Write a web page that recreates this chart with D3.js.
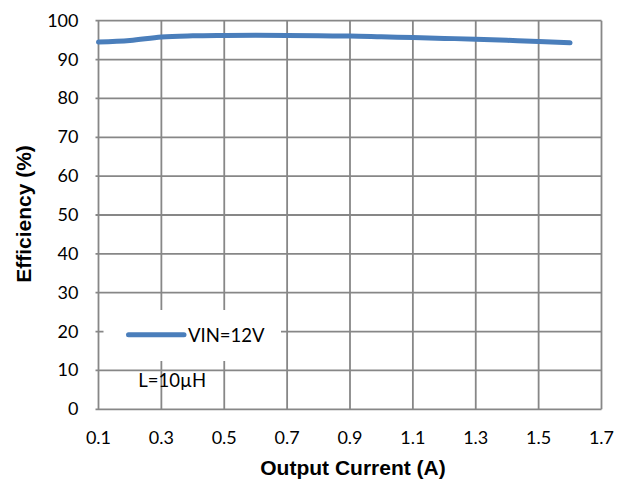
<!DOCTYPE html>
<html>
<head>
<meta charset="utf-8">
<script src="https://cdn.jsdelivr.net/npm/d3@7/dist/d3.min.js"></script>
<style>
  html, body { margin: 0; padding: 0; background: #ffffff; }
  svg { display: block; }
</style>
</head>
<body>
<svg id="chart" width="625" height="484"></svg>
<script>
// Efficiency vs output current, VIN = 12 V, L = 10 µH
const currentA = [0.1, 0.2, 0.3, 0.4, 0.5, 0.6, 0.7, 0.8, 0.9, 1.0, 1.1, 1.2, 1.3, 1.4, 1.5, 1.6];
const efficiencyPct = [94.5, 94.9, 95.8, 96.1, 96.2, 96.25, 96.2, 96.1, 96.05, 95.85, 95.65, 95.45, 95.25, 94.95, 94.65, 94.3];
const xTicks = [0.1, 0.3, 0.5, 0.7, 0.9, 1.1, 1.3, 1.5, 1.7];
const yTicks = [0, 10, 20, 30, 40, 50, 60, 70, 80, 90, 100];
const seriesName = "VIN=12V";
const noteText = "L=10\u00B5H";

const svg = d3.select("#chart");
const plot = { left: 98.5, right: 601.5, top: 20.7, bottom: 409.3 };

const x = d3.scaleLinear().domain([0.1, 1.7]).range([plot.left, plot.right]);
const y = d3.scaleLinear().domain([0, 100]).range([plot.bottom, plot.top]);

const gridColor = "#878787";
const tickFont = "Lato, 'Liberation Sans', Arial, sans-serif";
const titleFont = "'Liberation Sans', Arial, sans-serif";

// horizontal gridlines (with short outside ticks on the left)
svg.append("g")
  .selectAll("line")
  .data(yTicks)
  .join("line")
  .attr("x1", plot.left - 3)
  .attr("x2", plot.right)
  .attr("y1", d => y(d))
  .attr("y2", d => y(d))
  .attr("stroke", gridColor)
  .attr("stroke-width", 1.8);

// vertical gridlines
svg.append("g")
  .selectAll("line")
  .data(xTicks)
  .join("line")
  .attr("x1", d => x(d))
  .attr("x2", d => x(d))
  .attr("y1", plot.top)
  .attr("y2", plot.bottom)
  .attr("stroke", gridColor)
  .attr("stroke-width", 1.8);

// x tick labels
svg.append("g")
  .selectAll("text")
  .data(xTicks)
  .join("text")
  .attr("x", d => x(d))
  .attr("y", 444)
  .attr("text-anchor", "middle")
  .attr("font-family", tickFont)
  .attr("font-size", 18)
  .attr("fill", "#000")
  .text(d => d3.format(".1f")(d));

// y tick labels
svg.append("g")
  .selectAll("text")
  .data(yTicks)
  .join("text")
  .attr("x", 78.5)
  .attr("y", d => y(d) + 6)
  .attr("text-anchor", "end")
  .attr("font-family", tickFont)
  .attr("font-size", 18)
  .attr("fill", "#000")
  .text(d => d);

// axis titles
svg.append("text")
  .attr("x", 353)
  .attr("y", 475)
  .attr("text-anchor", "middle")
  .attr("font-family", titleFont)
  .attr("font-weight", "bold")
  .attr("font-size", 21)
  .text("Output Current (A)");

svg.append("text")
  .attr("transform", "translate(31,214) rotate(-90)")
  .attr("text-anchor", "middle")
  .attr("font-family", titleFont)
  .attr("font-weight", "bold")
  .attr("font-size", 21)
  .text("Efficiency (%)");

// efficiency curve
const pts = currentA.map((c, i) => [c, efficiencyPct[i]]);
const line = d3.line()
  .x(d => x(d[0]))
  .y(d => y(d[1]))
  .curve(d3.curveMonotoneX);

svg.append("path")
  .datum(pts)
  .attr("d", line)
  .attr("fill", "none")
  .attr("stroke", "#4a7ebb")
  .attr("stroke-width", 5)
  .attr("stroke-linecap", "round")
  .attr("stroke-linejoin", "round");

// legend box
const legend = svg.append("g");
legend.append("rect")
  .attr("x", 103.5)
  .attr("y", 310)
  .attr("width", 177.5)
  .attr("height", 51)
  .attr("fill", "#ffffff");
legend.append("line")
  .attr("x1", 128.5)
  .attr("x2", 184)
  .attr("y1", 334.7)
  .attr("y2", 334.7)
  .attr("stroke", "#4a7ebb")
  .attr("stroke-width", 5)
  .attr("stroke-linecap", "round");
legend.append("text")
  .attr("x", 188)
  .attr("y", 341.5)
  .attr("font-family", tickFont)
  .attr("font-size", 18.5)
  .attr("fill", "#000")
  .text(seriesName);

// inductor note
svg.append("text")
  .attr("x", 138.3)
  .attr("y", 387)
  .attr("font-family", tickFont)
  .attr("font-size", 18.5)
  .attr("fill", "#000")
  .text(noteText);
</script>
</body>
</html>
